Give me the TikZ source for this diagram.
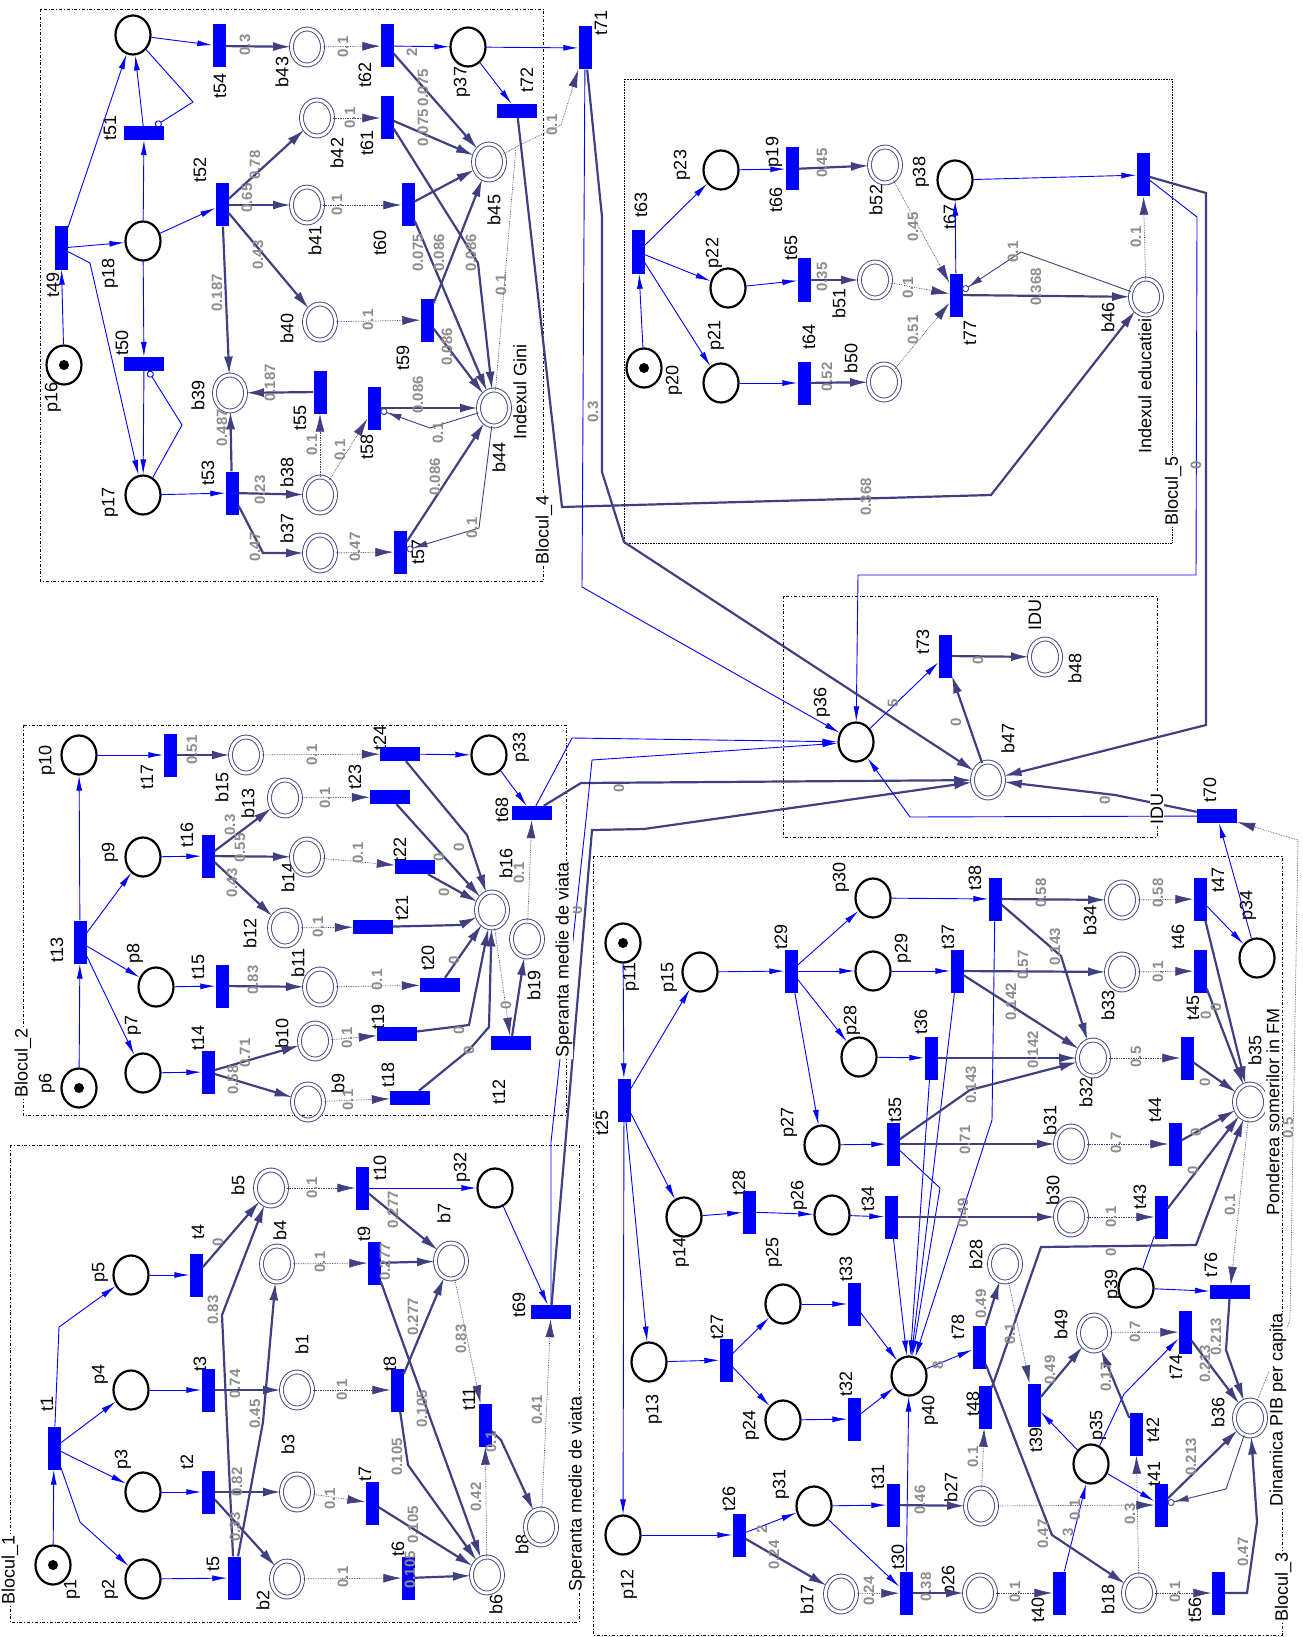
\documentclass[tikz,border=0pt]{standalone}
\usepackage{fontspec}
\setmainfont{Liberation Sans}
\usetikzlibrary{arrows.meta,shapes.geometric}
\definecolor{navy}{RGB}{64,64,128}
\definecolor{wgray}{RGB}{140,140,140}
\tikzset{
  place/.style={ellipse,draw=black,line width=2.2pt,fill=white,minimum width=35pt,minimum height=39pt,inner sep=0pt},
  bplace/.style={ellipse,draw=navy,double=white,double distance=3pt,line width=0.9pt,minimum width=31pt,minimum height=36pt,inner sep=0pt},
  tv/.style={rectangle,fill=blue,minimum width=13pt,minimum height=43pt,inner sep=0pt},
  th/.style={rectangle,fill=blue,minimum width=40pt,minimum height=14pt,inner sep=0pt},
  token/.style={circle,fill=black,minimum size=10pt,inner sep=0pt},
  lbl/.style={rotate=90,font=\fontsize{18}{20}\selectfont,inner sep=0pt},
  wt/.style={rotate=90,font=\fontsize{15}{16}\selectfont\bfseries,text=wgray,inner sep=0pt},
  blk/.style={draw=black,line width=0.6pt,dash dot},
  blkdot/.style={draw=black,line width=0.6pt,densely dotted},
  blklbl/.style={rotate=90,fill=white,font=\fontsize{18}{20}\selectfont,inner sep=1pt},
  parc/.style={draw=blue,line width=0.9pt,-{Latex[length=15pt,width=6pt]}},
  pline/.style={draw=blue,line width=0.9pt},
  narc/.style={draw=navy,line width=2.2pt,-{Latex[length=18pt,width=9pt]}},
  darc/.style={draw=navy,line width=0.7pt,densely dotted,-{Latex[length=18pt,width=9pt]}},
  dline/.style={draw=navy,line width=0.7pt,densely dotted},
  pinh/.style={draw=blue,line width=0.9pt,-{Circle[open,length=7pt,width=7pt]}},
  ninh/.style={draw=navy,line width=0.9pt,-{Latex[length=14pt,width=7pt]Circle[open,length=7pt,width=7pt]}},
}
\begin{document}
\begin{tikzpicture}[x=1pt,y=1pt,yscale=-1]
\useasboundingbox (0,0) rectangle (1302,1637);

% Blocks
\draw[blk] (40,9) rectangle (543,581);
\draw[blkdot] (624,79) rectangle (1172,543);
\draw[blk] (23,725) rectangle (566,1115);
\draw[blk] (10,1145) rectangle (579,1622);
\draw[blk] (783,596) rectangle (1157,837);
\draw[blk] (593,856) rectangle (1282,1635);

% Labels of places and transitions
\foreach \w/\x/\y [count=\i] in {
  t54/220/86, b43/282/72, t62/365/75, t51/110/128, t52/200/170, b42/337/153, t61/367/143,
  b41/315/240, t60/380/243, b40/287/328, t59/403/358, p18/110/273, t49/53/285, p16/53/397,
  t50/122/343, b39/198/395, t55/300/418, t58/367/447, p17/110/502, t53/208/473, b38/287/472,
  b37/287/528, t57/418/552, b44/499/457, b45/494/210, p37/462/82, t72/527/80, t71/601/23,
  t63/641/205, p23/682/165, p19/774/152, t66/776/200, b52/876/200, p22/714/253, t65/791/248,
  b51/839/303, p21/716/335, t64/809/337, b50/851/358, p20/674/380, p38/921/172, t67/950/217,
  t77/970/333, b46/1108/317,
  p36/822/702, t73/923/642, b48/1075/668, IDU/1035/615, b47/1008/738, t70/1210/790,
  p10/47/760, t17/147/777, b15/222/787, t24/380/738, b13/248/803, t23/355/777, p33/521/747,
  t68/502/810, p9/110/852, t13/57/950, p8/135/953, p7/133/1025, p6/47/1083, t16/187/835,
  t15/198/967, t14/198/1038, b14/288/877, b12/250/933, b11/298/963, b10/282/1033, b9/338/1083,
  t22/400/850, t21/402/908, t20/428/958, t19/378/1017, t18/388/1075, b16/506/863, b19/534/985,
  t12/499/1092,
  b5/238/1185, t10/380/1168, p32/462/1167, b7/444/1213, p1/72/1589, p2/110/1589, p3/123/1459,
  p4/100/1374, p5/100/1272, t1/47/1404, t2/187/1462, t3/200/1364, t4/198/1232, t5/213/1564,
  b4/280/1230, b1/302/1344, b3/288/1444, b2/263/1600, t9/364/1234, t8/390/1364, t7/365/1474,
  t6/398/1549, b6/496/1604, b8/522/1544, t11/469/1399, t69/519/1305,
  p11/631/977, t25/602/1123, p15/669/977, t29/781/937, p30/841/877, p29/903/948, p28/852/1020,
  p27/789/1122, t28/739/1183, p14/681/1252, p26/799/1195, t34/868/1199, p25/774/1252,
  p24/751/1425, p13/654/1409, t27/717/1327, t33/846/1269, t32/846/1384, p12/629/1584,
  t26/729/1499, p31/781/1484, b17/807/1599, t38/975/878, b34/1090/920, t47/1218/880,
  p34/1248/905, t37/948/937, b33/1108/1005, t46/1178/937, t36/921/1022, b32/1086/1092,
  t45/1193/1008, b35/1255/1050, t35/895/1110, b31/1050/1120, t44/1155/1110, b30/1053/1190,
  t43/1140/1197, b28/976/1254, p39/1113/1284, t76/1211/1265, b49/1061/1324, t74/1176/1367,
  t78/958/1327, p40/930/1410, t48/973/1404, t39/1036/1440, b36/1218/1412, p35/1098/1425,
  t42/1153/1430, t41/1154/1474, b27/951/1487, t31/878/1477, t30/898/1557, b26/948/1580,
  t40/1038/1610, b18/1108/1599, t56/1195/1610}
  \node[lbl] (l\i) at (\x,\y) {\w};
\node[lbl] (gini) at (520,392) {Indexul Gini};
\node[lbl] (educ) at (1145,386) {Indexul educatiei};

% Places
\foreach \n/\x/\y in {
  ptop/133/35, p16/64/365, p18/143/241, p17/143/495, p37/468/47,
  p20/644/368, p21/721/383, p22/728/288, p23/721/170, p38/955/180, p36/856/742,
  p10/79/755, p9/143/857, p8/156/987, p7/143/1073, p6/79/1088, p33/489/755,
  p1/53/1565, p2/143/1579, p3/143/1492, p4/131/1390, p5/131/1275, p32/495/1188,
  p11/623/943, p15/700/972, p14/684/1217, p13/649/1362, p12/623/1535, p30/873/898,
  p29/873/971, p28/859/1057, p27/822/1145, p26/832/1215, p25/783/1304, p24/783/1420,
  p31/814/1506, p40/909/1376, p39/1136/1288, p35/1091/1464, p34/1257/958}
  \node[place] (\n) at (\x,\y) {};
\foreach \n in {p16,p20,p6,p1,p11}
  \node[token] (k\n) at (\n) {};
\foreach \n/\x/\y in {
  b43/307/47, b42/317/118, b41/307/205, b40/320/322, b39/230/393, b38/320/495, b37/320/553,
  b44/494/408, b45/489/162, b52/885/165, b51/875/280, b50/884/382, b46/1146/297,
  b47/988/780, b48/1045/657,
  b15/246/755, b13/285/798, b14/307/857, b12/285/928, b11/320/987, b10/315/1041,
  b9/308/1102, b16/492/910, b19/527/939,
  b5/271/1188, b4/277/1264, b1/297/1390, b3/297/1492, b2/287/1579, b7/451/1261,
  b6/487/1575, b8/541/1527,
  b34/1122/900, b33/1122/972, b32/1093/1058, b35/1250/1102, b31/1071/1144, b30/1071/1217,
  b28/1005/1264, b49/1094/1333, b36/1250/1418, b27/981/1506, b26/980/1593, b18/1139/1593,
  b17/841/1594}
  \node[bplace] (\n) at (\x,\y) {};

% Transitions
\foreach \n/\x/\y in {
  t54/219/46, t62/387/46, t52/222/205, t61/387/118, t60/408/205, t59/427/320, t49/61/248,
  t55/320/392, t58/374/408, t53/232/493, t57/400/552, t71/585/48,
  t63/638/252, t66/792/169, t65/804/280, t64/804/383, t77/956/295, t67/1143/175, t73/945/656,
  t17/170/755, t13/80/942, t16/208/856, t15/222/986, t14/208/1072,
  t1/54/1448, t2/208/1492, t3/208/1390, t4/196/1275, t5/234/1578, t9/374/1263, t8/397/1390,
  t7/372/1503, t6/408/1578, t10/362/1188, t11/485/1425,
  t25/624/1100, t29/791/971, t28/749/1212, t34/891/1217, t27/726/1360, t33/854/1304,
  t32/854/1419, t26/739/1535, t38/995/899, t47/1200/899, t37/957/971, t46/1200/971,
  t36/931/1058, t45/1187/1058, t35/893/1144, t44/1175/1144, t43/1161/1217, t74/1185/1332,
  t78/979/1347, t48/985/1407, t39/1034/1405, t42/1136/1434, t41/1161/1505, t31/893/1505,
  t30/906/1593, t40/1059/1593, t56/1218/1593}
  \node[tv] (\n) at (\x,\y) {};
\foreach \n/\x/\y in {
  t51/144/133, t50/144/364, t72/517/111, t24/400/754, t23/390/797, t22/415/867, t21/373/927,
  t20/440/985, t19/397/1034, t18/410/1098, t12/511/1043, t68/532/813, t70/1217/816,
  t69/551/1312, t76/1230/1292}
  \node[th] (\n) at (\x,\y) {};

% Blocul_4
\draw[parc] (ptop) -- (t54);
\draw[parc] (p16) -- (t49);
\draw[parc] (t49) -- (ptop);
\draw[parc] (t49) -- (p18);
\draw[parc] (t49) -- (90,263) -- (p17);
\draw[parc] (p18) -- (t51);
\draw[parc] (t51) -- (ptop);
\draw[parc] (p18) -- (t50);
\draw[parc] (t50) -- (p17);
\draw[parc] (p18) -- (t52);
\draw[parc] (p17) -- (t53);
\draw[pinh] (ptop) -- (193,102) -- (t51);
\draw[pinh] (p17) -- (182,425) -- (t50);
\draw[parc] (t62) -- (p37);
\draw[parc] (p37) -- (t71);
\draw[parc] (p37) -- (t72);
\foreach \a/\b in {t54/b43, t62/b45, t61/b45, t60/b45, t59/b45, t60/b44, t59/b44,
  t52/b42, t52/b41, t52/b40, t52/b39, t55/b39, t53/b39, t53/b38, t58/b44, t57/b44}
  \draw[narc] (\a) -- (\b);
\draw[narc] (t61) -- (478,263) -- (b44);
\draw[narc] (t53) -- (263,553) -- (b37);
\draw[ninh] (b44) -- (430,428) -- (t58);
\draw[ninh] (b44) -- (479,528) -- (t57);
\foreach \a/\b in {b43/t62, b42/t61, b41/t60, b40/t59, b38/t55, b38/t58, b37/t57}
  \draw[darc] (\a) -- (\b);
\draw[darc] (b45) -- (516,147) -- (561,125) -- (t71);
\draw[dline] (b44) -- (516,147);

% Blocul_5
\foreach \a/\b in {p20/t63, t63/p23, t63/p22, t63/p21, p23/t66, p22/t65, p21/t64, t77/p38, p38/t67}
  \draw[parc] (\a) -- (\b);
\foreach \a/\b in {t66/b52, t65/b51, t64/b50, t77/b46}
  \draw[narc] (\a) -- (\b);
\foreach \a/\b in {b52/t77, b51/t77, b50/t77, b46/t67}
  \draw[darc] (\a) -- (\b);
\draw[ninh] (b46) -- (1021,252) -- (t77);
\draw[narc] (t67) -- (1206,193) -- (1206,725) -- (b47);
\draw[parc] (t67) -- (1197,217) -- (1196,575) -- (858,575) -- (p36);
\draw[narc] (t72) -- (562,507) -- (991,495) -- (b46);
\draw[narc] (t71) -- (602,217) -- (602,472) -- (624,542) -- (b47);
\draw[parc] (t71) -- (582,587) -- (p36);

% IDU
\draw[parc] (p36) -- (t73);
\draw[narc] (b47) -- (t73);
\draw[narc] (t73) -- (b48);
\draw[parc] (t68) -- (572,738) -- (p36);
\draw[narc] (t68) -- (581,783) -- (b47);
\draw[parc] (t69) -- (551,1142) -- (586,820) -- (592,760) -- (p36);
\draw[narc] (t69) -- (592,830) -- (644,829) -- (b47);
\draw[narc] (t70) -- (1115,795) -- (b47);
\draw[parc] (t70) -- (910,817) -- (p36);
\draw[parc] (p34) -- (t70);
\draw[darc] (b36) -- (1290,1320) -- (1298,840) -- (t70);

% Blocul_2
\foreach \a/\b in {p6/t13, t13/p10, t13/p9, t13/p8, t13/p7, p10/t17, p9/t16, p8/t15, p7/t14, t24/p33, p33/t68}
  \draw[parc] (\a) -- (\b);
\foreach \a/\b in {t17/b15, t16/b13, t16/b14, t16/b12, t15/b11, t14/b10, t14/b9, t23/b16, t22/b16, t20/b16, t12/b19}
  \draw[narc] (\a) -- (\b);
\foreach \a/\b in {b15/t24, b13/t23, b14/t22, b12/t21, b11/t20, b10/t19, b9/t18, b16/t12, b19/t68}
  \draw[darc] (\a) -- (\b);
\draw[narc] (t24) -- (467,835) -- (b16);
\draw[narc] (t21) -- (460,925) -- (b16);
\draw[narc] (t19) -- (469,1025) -- (b16);
\draw[narc] (t18) -- (469,1050) -- (489,1027) -- (b16);

% Blocul_1
\foreach \a/\b in {p1/t1, t1/p3, t1/p4, p2/t5, p3/t2, p4/t3, p5/t4, t10/p32, p32/t69}
  \draw[parc] (\a) -- (\b);
\draw[parc] (t1) -- (80,1522) -- (p2);
\draw[parc] (t1) -- (59,1327) -- (p5);
\foreach \a/\b in {t4/b5, t3/b1, t2/b3, t2/b2, t10/b7, t9/b7, t8/b7, t9/b6, t7/b6, t6/b6}
  \draw[narc] (\a) -- (\b);
\draw[narc] (t5) -- (222,1315) -- (b5);
\draw[narc] (t5) -- (263,1422) -- (b4);
\draw[narc] (t8) -- (408,1465) -- (b6);
\draw[narc] (t11) -- (501,1440) -- (b8);
\foreach \a/\b in {b5/t10, b4/t9, b1/t8, b3/t7, b2/t6, b7/t11, b6/t11, b8/t69}
  \draw[darc] (\a) -- (\b);

% Blocul_3
\foreach \a/\b in {p11/t25, t25/p15, t25/p14, t25/p13, t25/p12, p15/t29, t29/p30, t29/p29,
  t29/p28, t29/p27, p14/t28, t28/p26, p26/t34, p13/t27, t27/p25, t27/p24, p25/t33, p24/t32,
  p12/t26, t26/p31, p31/t31, p31/t30, p27/t35, p28/t36, p29/t37, p30/t38, t33/p40, t32/p40,
  t30/p40, t34/p40, t36/p40, t37/p40, p40/t78, p35/t39, p35/t41, t40/p35, p39/t76, t47/p34}
  \draw[parc] (\a) -- (\b);
\draw[parc] (t35) -- (940,1188) -- (p40);
\draw[parc] (t38) -- (992,1120) -- (p40);
\draw[parc] (p35) -- (1124,1394) -- (t74);
\draw[pline] (t43) -- (p39);
\foreach \a/\b in {t26/b17, t30/b26, t31/b27, t34/b30, t35/b31, t36/b32, t37/b33, t37/b32,
  t38/b34, t43/b35, t44/b35, t45/b35, t46/b35, t47/b35, t78/b28, t39/b49, t42/b49, t74/b36, t41/b36}
  \draw[narc] (\a) -- (\b);
\draw[narc] (t35) -- (970,1090) -- (b32);
\draw[narc] (t38) -- (1061,956) -- (b32);
\draw[narc] (t48) -- (1041,1247) -- (1196,1245) -- (b35);
\draw[narc] (t78) -- (1052,1535) -- (b18);
\draw[narc] (t76) -- (1226,1350) -- (b36);
\draw[narc] (t56) -- (1247,1593) -- (1257,1522) -- (b36);
\draw[ninh] (b36) -- (1226,1489) -- (t41);
\foreach \a/\b in {b17/t30, b26/t40, b27/t41, b27/t48, b18/t56, b18/t42, b28/t39, b49/t74,
  b30/t43, b31/t44, b32/t45, b33/t46, b34/t47, b35/t76}
  \draw[darc] (\a) -- (\b);

% Weights
\foreach \w/\x/\y [count=\i] in {
  0.3/245/45, 0.1/343/47, 2/412/52, 0.075/423/88, 0.075/423/128, 0.1/350/118, 0.65/247/198,
  0.78/255/165, 0.1/337/205, 0.43/258/255, 0.187/217/293, 0.1/368/320, 0.075/418/253,
  0.086/439/253, 0.086/471/253, 0.086/447/347, 0.1/501/285, 0.187/270/383, 0.487/222/428,
  0.23/260/490, 0.47/255/547, 0.47/355/547, 0.1/312/445, 0.1/340/450, 0.086/418/395,
  0.1/438/433, 0.086/435/477, 0.1/472/528, 0.1/552/125, 0.368/866/497, 0.3/593/412,
  0.45/822/163, 0.35/822/277, 0.52/827/377, 0.45/913/227, 0.1/908/288, 0.51/913/330,
  0.1/1013/252, 0.368/1036/287, 0.1/1136/237, 0/1196/465,
  5/893/703, 0/956/722, 0/978/660, 0/1105/800, 0/619/788, 0/577/910,
  0.51/192/750, 0.1/312/755, 0.1/325/798, 0.3/230/825, 0.55/240/848, 0.43/232/883,
  0.83/253/980, 0.58/233/1080, 0.71/245/1053, 0.1/358/853, 0.1/318/927, 0.1/377/980,
  0.1/347/1038, 0.1/348/1100, 0/459/847, 0/439/857, 0/444/892, 0/454/960, 0/459/1030,
  0/469/1050, 0/506/1005, 0.1/519/873,
  0.1/312/1188, 0.277/393/1210, 0.277/385/1262, 0.277/413/1317, 0.83/213/1310, 0.45/255/1414,
  0.33/235/1527, 0.82/237/1482, 0.74/235/1384, 0/218/1242, 0.1/320/1262, 0.1/342/1390,
  0.1/330/1499, 0.1/343/1577, 0.105/397/1457, 0.105/422/1409, 0.105/413/1525, 0.105/410/1570,
  0.83/461/1339, 0.42/476/1497, 0.1/491/1442, 0.41/537/1410,
  2/762/1529, 0.24/774/1555, 0.24/869/1591, 0.58/1041/893, 0.58/1158/893, 0.143/1055/947,
  0.57/1023/965, 0.1/1158/972, 0.142/1011/1002, 0.142/1033/1050, 0.5/1136/1057, 0/1206/1015,
  0/1216/1007, 0/1205/1082, 0.143/971/1085, 0.71/965/1140, 0.7/1116/1143, 0/1196/1132,
  0.49/963/1213, 0.1/1111/1217, 0/1193/1170, 0.1/1230/1205, 0.5/1288/1128, 0.49/981/1304,
  8/938/1365, 0.1/1010/1334, 0.49/1050/1370, 0.7/1135/1332, 0.17/1106/1377, 0.213/1205/1364,
  0.213/1216/1337, 0.213/1191/1457, 0.1/973/1457, 0.46/920/1500, 0.1/1075/1510, 0.3/1130/1514,
  0.47/1043/1534, 3/1068/1532, 0.47/1243/1552, 0.38/926/1587, 0.1/1015/1592, 0.1/1175/1592,
  0/1111/1252}
  \node[wt] (w\i) at (\x,\y) {\w};

% Block labels
\node[blklbl] (bl4) at (544,530) {Blocul\_4};
\node[blklbl] (bl5) at (1173,491) {Blocul\_5};
\node[blklbl] (bl2) at (23,1063) {Blocul\_2};
\node[blklbl] (sv2) at (564,960) {Speranta medie de viata};
\node[blklbl] (bl1) at (10,1570) {Blocul\_1};
\node[blklbl] (sv1) at (577,1494) {Speranta medie de viata};
\node[blklbl] (idu) at (1157,809) {IDU};
\node[blklbl] (bl3) at (1283,1587) {Blocul\_3};
\node[blklbl] (psfm) at (1273,1112) {Ponderea somerilor in FM};
\node[blklbl] (dpib) at (1278,1410) {Dinamica PIB per capita};
\end{tikzpicture}
\end{document}
